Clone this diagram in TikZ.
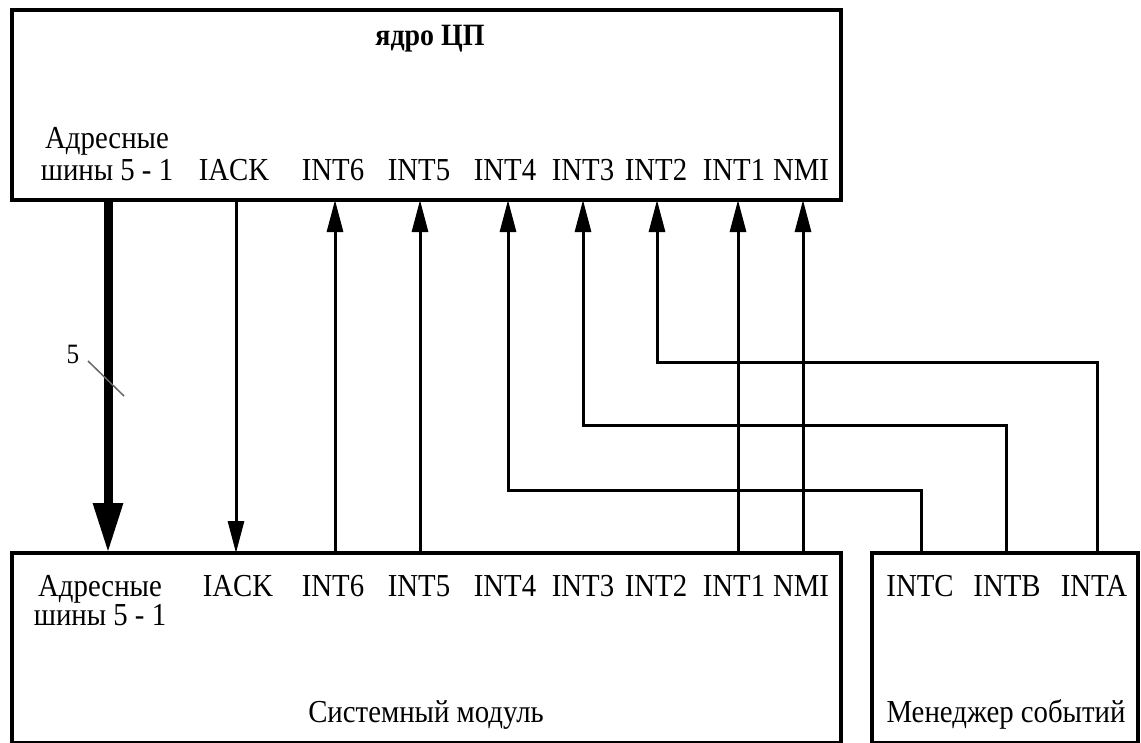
\documentclass[tikz,border=0pt]{standalone}
\usepackage{fontspec}
\setmainfont{Liberation Serif}[FakeStretch=0.9]
\usetikzlibrary{arrows.meta}
\begin{document}
\begin{tikzpicture}[x=1pt,y=-1pt,
  box/.style={draw,line width=4pt,inner sep=0pt,outer sep=0pt,anchor=north west},
  lbl/.style={inner sep=0pt,anchor=base,font=\fontsize{32}{36}\selectfont},
  wire/.style={line width=3pt},
  arr/.style={wire,-{Triangle[length=32pt,width=16pt]}},
  busarr/.style={line width=9pt,-{Triangle[length=50pt,width=28pt]}},
  tick/.style={draw=black!60,line width=1.5pt}
]
\useasboundingbox (0,0) rectangle (1141,742);
% boxes
\node[box,minimum width=829pt,minimum height=190pt] (cpu) at (12,10) {};
\node[box,minimum width=829pt,minimum height=190pt] (smod) at (12,553) {};
\node[box,minimum width=266pt,minimum height=190pt] (em) at (872,553) {};
% title
\node[inner sep=0pt,anchor=base,font=\bfseries\fontsize{31}{34}\selectfont] (title) at (430,45) {ядро ЦП};
% top labels
\node[lbl] (tA1) at (107,148) {Адресные};
\node[lbl] (tA2) at (107,180) {шины 5 - 1};
\node[lbl] (tIACK) at (234,180) {IACK};
\node[lbl] (tINT6) at (333,180) {INT6};
\node[lbl] (tINT5) at (419,180) {INT5};
\node[lbl] (tINT4) at (505,180) {INT4};
\node[lbl] (tINT3) at (583,180) {INT3};
\node[lbl] (tINT2) at (656,180) {INT2};
\node[lbl] (tINT1) at (734,180) {INT1};
\node[lbl] (tNMI) at (801,180) {NMI};
% bottom labels
\node[lbl] (bA1) at (100,596) {Адресные};
\node[lbl] (bA2) at (100,625) {шины 5 - 1};
\node[lbl] (bIACK) at (238,596) {IACK};
\node[lbl] (bINT6) at (333,596) {INT6};
\node[lbl] (bINT5) at (419,596) {INT5};
\node[lbl] (bINT4) at (505,596) {INT4};
\node[lbl] (bINT3) at (583,596) {INT3};
\node[lbl] (bINT2) at (656,596) {INT2};
\node[lbl] (bINT1) at (734,596) {INT1};
\node[lbl] (bNMI) at (801,596) {NMI};
\node[lbl] (eINTC) at (920,596) {INTC};
\node[lbl] (eINTB) at (1007,596) {INTB};
\node[lbl] (eINTA) at (1094,596) {INTA};
\node[lbl] (smodname) at (426,722) {Системный модуль};
\node[lbl] (emname) at (1006,722) {Менеджер событий};
% pin positions
\coordinate (pBus) at (108,0);
\coordinate (pIACK) at (236,0);
\coordinate (pINT6) at (335,0);
\coordinate (pINT5) at (420,0);
\coordinate (pINT4) at (508,0);
\coordinate (pINT3) at (583,0);
\coordinate (pINT2) at (657,0);
\coordinate (pINT1) at (738,0);
\coordinate (pNMI) at (803,0);
\coordinate (pC) at (921,0);
\coordinate (pB) at (1006,0);
\coordinate (pA) at (1097,0);
% connectors
\draw[busarr] (pBus |- cpu.south) -- (pBus |- smod.north);
\draw[arr] (pIACK |- cpu.south) -- (pIACK |- smod.north);
\draw[arr] (pINT6 |- smod.north) -- (pINT6 |- cpu.south);
\draw[arr] (pINT5 |- smod.north) -- (pINT5 |- cpu.south);
\draw[arr] (pINT1 |- smod.north) -- (pINT1 |- cpu.south);
\draw[arr] (pNMI |- smod.north) -- (pNMI |- cpu.south);
\draw[arr] (pC |- em.north) -- ++(0,-63) -| (pINT4 |- cpu.south);
\draw[arr] (pB |- em.north) -- ++(0,-128) -| (pINT3 |- cpu.south);
\draw[arr] (pA |- em.north) -- ++(0,-191) -| (pINT2 |- cpu.south);
% bus width mark
\coordinate (tk1) at (88,361);
\coordinate (tk2) at (124,396);
\draw[tick] (tk1) -- (tk2);
\node[inner sep=0pt,anchor=base,font=\fontsize{28}{30}\selectfont] (five) at (73,363) {5};
\end{tikzpicture}
\end{document}
